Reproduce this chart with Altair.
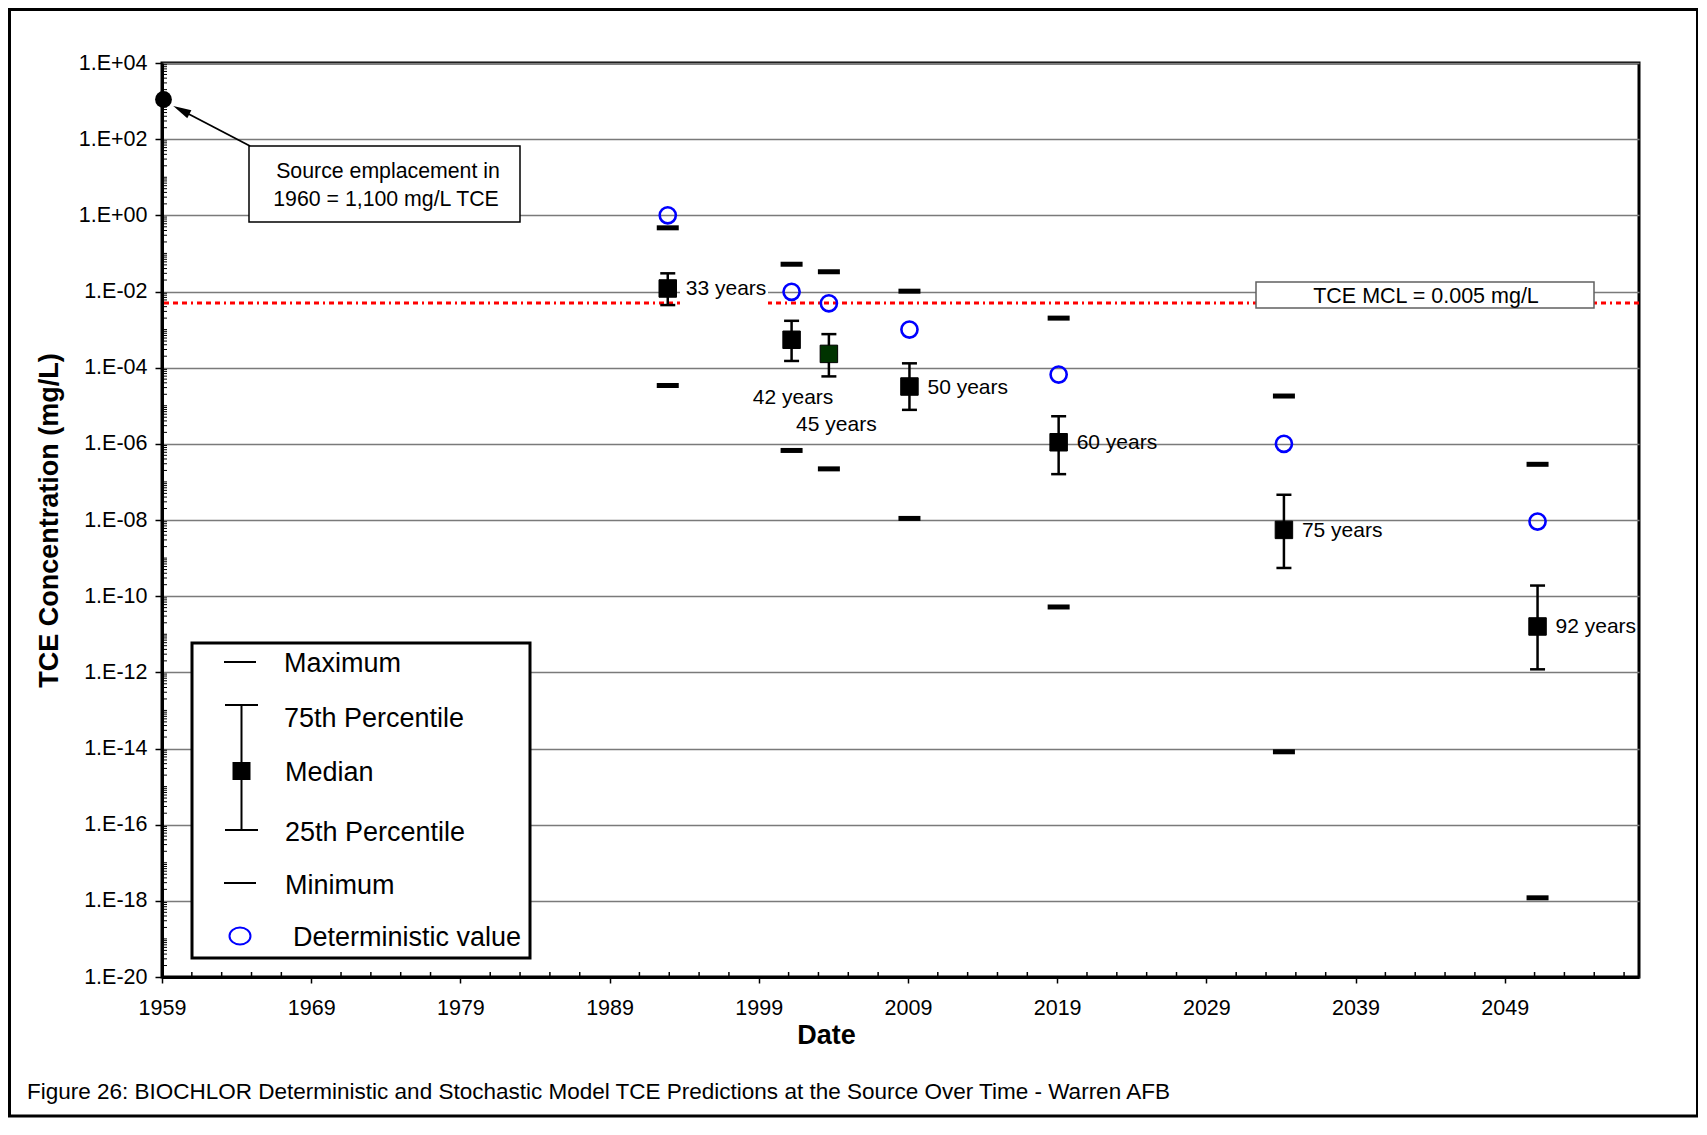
import altair as alt
import pandas as pd

FONT = "Liberation Sans"

# ---------------- data ----------------
ELAPSED = ["33 years", "42 years", "45 years", "50 years", "60 years", "75 years", "92 years"]
X_POS = [1992.9, 2001.2, 2003.7, 2009.1, 2019.1, 2034.2, 2051.2]
MAXIMUM = [0.47, 0.052, 0.033, 0.0102, 0.0020, 1.8e-5, 2.9e-7]
P75 = [0.030, 0.0017, 7.6e-4, 1.3e-4, 5.3e-6, 4.6e-8, 1.9e-10]
MEDIAN = [0.012, 5.4e-4, 2.3e-4, 3.2e-5, 1.1e-6, 5.5e-9, 1.6e-11]
P25 = [0.0044, 1.5e-4, 5.9e-5, 7.8e-6, 1.6e-7, 5.5e-10, 1.2e-12]
MINIMUM = [3.4e-5, 6.7e-7, 2.2e-7, 1.1e-8, 5.2e-11, 8.2e-15, 1.2e-18]
DETERMINISTIC = [1.0, 0.0098, 0.0049, 1.0e-3, 6.6e-5, 1.0e-6, 9.1e-9]
MEDIAN_FILL = ["#000000", "#000000", "#003300", "#000000", "#000000", "#000000", "#000000"]

SOURCE_X = [1959.1]
SOURCE_CONC = [1100.0]
MCL = [0.005]

RIGHT_LABELS = ["33 years", "50 years", "60 years", "75 years", "92 years"]
BELOW_TEXT = ["42 years", "45 years"]
BELOW_X = [2001.3, 2004.2]
BELOW_Y = [1.62e-5, 3.06e-6]

X_TICKS = [1959, 1969, 1979, 1989, 1999, 2009, 2019, 2029, 2039, 2049]
X_DOMAIN = [1959, 2058]
X_MINOR = [y for y in range(1961, 2058, 2) if (y - 1959) % 10 != 0]
Y_TICKS = [1e4, 1e2, 1e0, 1e-2, 1e-4, 1e-6, 1e-8, 1e-10, 1e-12, 1e-14, 1e-16, 1e-18, 1e-20]
Y_DOMAIN = [1e-20, 1e4]
Y_MINOR = [m * 10.0 ** k for k in range(-20, 4) for m in range(1, 10) if not (m == 1 and k % 2 == 0)]

LEGEND_TEXT = ["Maximum", "75th Percentile", "Median", "25th Percentile", " Minimum", "Deterministic value"]

# ---------------- layout ----------------
W, H = 1477, 914

df = pd.DataFrame({
    "elapsed": ELAPSED, "x": X_POS, "mx": MAXIMUM, "p75": P75, "med": MEDIAN,
    "p25": P25, "mn": MINIMUM, "det": DETERMINISTIC, "fill": MEDIAN_FILL,
})
one = pd.DataFrame({"k": [0]})

xs = alt.Scale(domain=X_DOMAIN, nice=False, zero=False)
ys = alt.Scale(type="log", domain=Y_DOMAIN, nice=False)

exp_expr = "round(log(datum.value)/LN10)"
label_expr = (f"'1.E' + ({exp_expr} >= 0 ? '+' : '-') + "
              f"(abs({exp_expr}) < 10 ? '0' : '') + abs({exp_expr})")

x_axis = alt.Axis(
    values=X_TICKS, format="d", grid=False,
    domainColor="black", domainWidth=3,
    tickColor="black", tickWidth=1.5, tickSize=6,
    labelFont=FONT, labelFontSize=21.5, labelColor="black", labelPadding=14,
    labelFlush=False, labelOverlap=False,
    title="Date", titleFont=FONT, titleFontSize=27, titleFontWeight="bold",
    titleColor="black", titleX=664, titleY=66, titleAlign="center",
    titleBaseline="alphabetic",
)
y_axis = alt.Axis(
    values=Y_TICKS, labelExpr=label_expr, grid=True,
    gridColor="#7a7a7a", gridWidth=1.3,
    domainColor="black", domainWidth=3,
    tickColor="black", tickWidth=1.5, tickSize=7,
    labelFont=FONT, labelFontSize=21.5, labelColor="black", labelPadding=8,
    labelFlush=False, labelOverlap=False,
    title="TCE Concentration (mg/L)", titleFont=FONT, titleFontSize=27,
    titleFontWeight="bold", titleColor="black", titleX=-113, titleY=H / 2,
    titleAngle=270, titleAlign="center", titleBaseline="middle",
)


def X(f):
    return alt.X(f"{f}:Q", scale=xs, axis=x_axis)


def Y(f):
    return alt.Y(f"{f}:Q", scale=ys, axis=y_axis)


def prect(x1, x2, y1, y2, **kw):
    return alt.Chart(one).mark_rect(**kw).encode(
        x=alt.value(x1), x2=alt.value(x2), y=alt.value(y1), y2=alt.value(y2))


def prule(x1, y1, x2=None, y2=None, **kw):
    enc = {"x": alt.value(x1), "y": alt.value(y1)}
    if x2 is not None:
        enc["x2"] = alt.value(x2)
    if y2 is not None:
        enc["y2"] = alt.value(y2)
    return alt.Chart(one).mark_rule(**kw).encode(**enc)


def ptext(txt, x, y, size, align="left", weight="normal"):
    return alt.Chart(one).mark_text(
        text=txt, align=align, baseline="middle", font=FONT, fontSize=size,
        fontWeight=weight, color="black").encode(x=alt.value(x), y=alt.value(y))


layers = []

# minor ticks (inside the plot)
layers.append(alt.Chart(pd.DataFrame({"t": X_MINOR})).mark_rule(color="black", strokeWidth=1.5).encode(
    x=X("t"), y=alt.value(H), y2=alt.value(H - 5)))
layers.append(alt.Chart(pd.DataFrame({"t": Y_MINOR})).mark_rule(color="black", strokeWidth=1).encode(
    y=Y("t"), x=alt.value(0), x2=alt.value(5)))

# MCL line
layers.append(alt.Chart(pd.DataFrame({"v": MCL})).mark_rule(
    color="#ff0000", strokeWidth=3, strokeDash=[5, 4, 5, 4, 5, 4, 2, 4]).encode(y=Y("v")))

# white patch behind "33 years"
layers.append(prect(518, 606, 215, 243, fill="white", stroke="white", strokeWidth=0))

# source annotation box and arrow
layers.append(prect(87, 358, 83, 159, fill="white", stroke="black", strokeWidth=1.5))
layers.append(ptext("Source emplacement in", 226, 109, 21.3, align="center"))
layers.append(ptext("1960 = 1,100 mg/L TCE", 224, 137, 21.3, align="center"))
layers.append(prule(88, 83, x2=19, y2=47, color="black", strokeWidth=1.8))
layers.append(alt.Chart(one).mark_point(
    shape="M0,-1L0.5,1L-0.5,1Z", size=324, filled=True, color="black", opacity=1,
    angle=297).encode(x=alt.value(19.3), y=alt.value(47.1)))

# MCL box
layers.append(prect(1094, 1432, 219, 245, fill="white", stroke="#606060", strokeWidth=1.5))
layers.append(ptext("TCE MCL = 0.005 mg/L", 1264, 234, 21.5, align="center"))

# data marks
layers.append(alt.Chart(df).mark_rule(color="black", strokeWidth=2.5).encode(
    x=X("x"), y=Y("p25"), y2=alt.Y2("p75")))
for f in ["p75", "p25"]:
    layers.append(alt.Chart(df).mark_tick(orient="horizontal", color="black", size=15,
                                          thickness=2.5, opacity=1).encode(x=X("x"), y=Y(f)))
for f in ["mx", "mn"]:
    layers.append(alt.Chart(df).mark_tick(orient="horizontal", color="black", size=22,
                                          thickness=5, opacity=1).encode(x=X("x"), y=Y(f)))
layers.append(alt.Chart(df).mark_square(size=306, opacity=1, stroke="black", strokeWidth=1).encode(
    x=X("x"), y=Y("med"), fill=alt.Fill("fill:N", scale=None)))
layers.append(alt.Chart(df).mark_point(shape="circle", size=260, filled=False, color="#0000ff",
                                       strokeWidth=2.6, opacity=1).encode(x=X("x"), y=Y("det")))
layers.append(alt.Chart(pd.DataFrame({"x": SOURCE_X, "c": SOURCE_CONC})).mark_circle(
    size=283, color="black", opacity=1).encode(x=X("x"), y=Y("c")))

# elapsed-time labels
layers.append(alt.Chart(df).transform_filter(
    alt.FieldOneOfPredicate(field="elapsed", oneOf=RIGHT_LABELS)).mark_text(
    align="left", baseline="middle", dx=18, dy=1, font=FONT, fontSize=21, color="black").encode(
    x=X("x"), y=Y("med"), text="elapsed:N"))
layers.append(alt.Chart(pd.DataFrame({"t": BELOW_TEXT, "x": BELOW_X, "y": BELOW_Y})).mark_text(
    align="center", baseline="middle", font=FONT, fontSize=21, color="black").encode(
    x=X("x"), y=Y("y"), text="t:N"))

# legend
layers.append(prect(30, 368, 580, 895, fill="white", stroke="black", strokeWidth=3))
layers.append(prule(62, 599, x2=94, color="black", strokeWidth=2))
layers.append(prule(63, 642, x2=96, color="black", strokeWidth=2))
layers.append(prule(79.5, 642, y2=767, color="black", strokeWidth=2))
layers.append(prule(63, 767, x2=96, color="black", strokeWidth=2))
layers.append(alt.Chart(one).mark_square(size=324, color="black", opacity=1).encode(
    x=alt.value(79.5), y=alt.value(708)))
layers.append(prule(62, 820, x2=94, color="black", strokeWidth=2))
layers.append(alt.Chart(one).mark_point(
    shape="M-1,0A1,0.8,0,1,1,1,0A1,0.8,0,1,1,-1,0Z", size=441, filled=False,
    color="#0000ff", strokeWidth=2, opacity=1).encode(x=alt.value(78), y=alt.value(873)))
for txt, lx, ly in zip(LEGEND_TEXT, [122, 122, 123, 123, 123, 131],
                       [601, 656, 710, 770, 823, 875]):
    layers.append(ptext(txt, lx, ly, 27))

# outer frame and caption
layers.append(prect(-152.5, 1535.5, -53.5, 1053, fillOpacity=0, stroke="black", strokeWidth=3))
layers.append(ptext("Figure 26: BIOCHLOR Deterministic and Stochastic Model TCE Predictions at the "
                    "Source Over Time - Warren AFB", -135, 1029, 22.5))

chart = alt.layer(*layers).properties(
    width=W, height=H,
    autosize=alt.AutoSizeParams(type="none"),
    padding={"left": 154, "top": 55, "right": 59, "bottom": 141},
).configure_view(stroke="black", strokeWidth=3)

chart.save("out.html", embed_options={"renderer": "svg", "actions": False})
